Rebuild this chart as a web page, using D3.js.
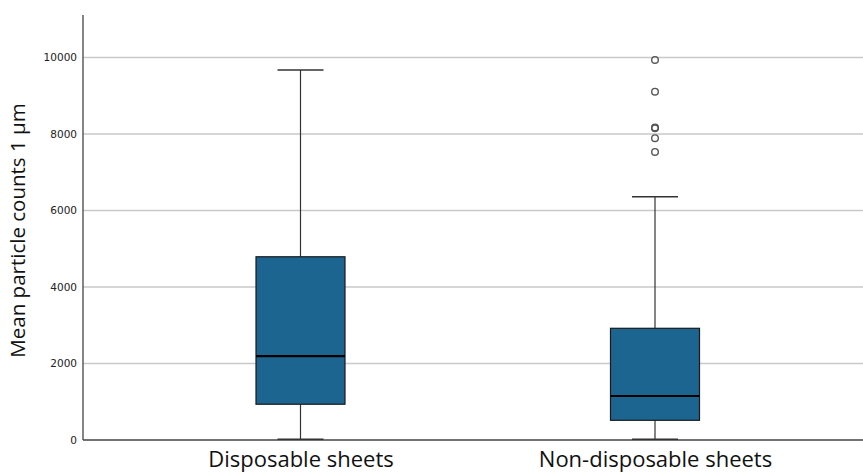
<!DOCTYPE html>
<html>
<head>
<meta charset="utf-8">
<script src="https://cdn.jsdelivr.net/npm/d3@7"></script>
<style>
  html, body { margin: 0; padding: 0; background: #fff; }
  svg { display: block; }
</style>
</head>
<body>
<div id="chart"></div>
<script>
// Box-plot summaries for the two sheet types
const categories = ["Disposable sheets", "Non-disposable sheets"];
const whiskerLow = [20, 20];
const q1 = [935, 515];
const median = [2195, 1150];
const q3 = [4790, 2920];
const whiskerHigh = [9675, 6360];
// Outliers (Non-disposable sheets only)
const outlierCategory = ["Non-disposable sheets", "Non-disposable sheets", "Non-disposable sheets", "Non-disposable sheets", "Non-disposable sheets", "Non-disposable sheets"];
const outlierValues = [9935, 9105, 8170, 8150, 7890, 7530];
const yTicks = [0, 2000, 4000, 6000, 8000, 10000];
const yTitle = "Mean particle counts 1 µm";

const W = 863, H = 473;
const mLeft = 83, mBottom = 440, mTop = 15, mRight = 863;
const labelFont = "'Open Sans', 'Noto Sans', sans-serif";

const svg = d3.select("#chart").append("svg")
  .attr("width", W).attr("height", H);

const y = d3.scaleLinear().domain([0, 11110]).range([mBottom, mTop]);
const x = d3.scalePoint().domain(categories).range([300.5, 655]);

const boxW = 89, capW = 46;

// Horizontal gridlines
svg.append("g")
  .selectAll("line")
  .data(yTicks.filter(d => d > 0))
  .join("line")
  .attr("x1", mLeft).attr("x2", mRight)
  .attr("y1", d => y(d)).attr("y2", d => y(d))
  .attr("stroke", "#c9c9c9").attr("stroke-width", 1.5);

// Y axis labels
const yAxis = d3.axisLeft(y).tickValues(yTicks).tickSize(0).tickPadding(6).tickFormat(d3.format("d"));
const gy = svg.append("g").attr("transform", `translate(${mLeft},0)`).call(yAxis);
gy.select(".domain").remove();
gy.selectAll("text")
  .attr("font-family", "'DejaVu Sans', sans-serif")
  .attr("font-size", 10.5)
  .attr("fill", "#222");

// X axis (category labels)
const xAxis = d3.axisBottom(x).tickSize(0).tickPadding(11);
const gx = svg.append("g").attr("transform", `translate(0,${mBottom})`).call(xAxis);
gx.select(".domain").remove();
gx.selectAll("text")
  .attr("font-family", labelFont)
  .attr("font-size", 22)
  .attr("fill", "#111");

// Axis lines
svg.append("line")
  .attr("x1", mLeft).attr("x2", mLeft).attr("y1", mTop).attr("y2", mBottom)
  .attr("stroke", "#444").attr("stroke-width", 1.3);
svg.append("line")
  .attr("x1", mLeft).attr("x2", mRight).attr("y1", mBottom).attr("y2", mBottom)
  .attr("stroke", "#444").attr("stroke-width", 1.3);

// Boxes
const stats = categories.map((c, i) => ({
  c, lo: whiskerLow[i], q1: q1[i], med: median[i], q3: q3[i], hi: whiskerHigh[i]
}));

const g = svg.append("g");
stats.forEach(s => {
  const cx = x(s.c);
  // whiskers
  g.append("line").attr("x1", cx).attr("x2", cx).attr("y1", y(s.q3)).attr("y2", y(s.hi))
    .attr("stroke", "#333").attr("stroke-width", 1.2);
  g.append("line").attr("x1", cx).attr("x2", cx).attr("y1", y(s.q1)).attr("y2", y(s.lo))
    .attr("stroke", "#333").attr("stroke-width", 1.2);
  g.append("line").attr("x1", cx - capW / 2).attr("x2", cx + capW / 2).attr("y1", y(s.hi)).attr("y2", y(s.hi))
    .attr("stroke", "#333").attr("stroke-width", 1.5);
  g.append("line").attr("x1", cx - capW / 2).attr("x2", cx + capW / 2).attr("y1", y(s.lo)).attr("y2", y(s.lo))
    .attr("stroke", "#333").attr("stroke-width", 1.5);
  // box
  g.append("rect")
    .attr("x", cx - boxW / 2).attr("width", boxW)
    .attr("y", y(s.q3)).attr("height", y(s.q1) - y(s.q3))
    .attr("fill", "#1c6591").attr("stroke", "#1a1a1a").attr("stroke-width", 1.2);
  // median
  g.append("line").attr("x1", cx - boxW / 2).attr("x2", cx + boxW / 2).attr("y1", y(s.med)).attr("y2", y(s.med))
    .attr("stroke", "#000").attr("stroke-width", 2.2);
});

// Outliers
svg.append("g")
  .selectAll("circle")
  .data(outlierValues.map((v, i) => ({ v, c: outlierCategory[i] })))
  .join("circle")
  .attr("cx", d => x(d.c)).attr("cy", d => y(d.v))
  .attr("r", 3.3)
  .attr("fill", "none").attr("stroke", "#555").attr("stroke-width", 1.4);

// Y title
svg.append("text")
  .attr("transform", `translate(25,${(mTop + mBottom) / 2 + 3}) rotate(-90)`)
  .attr("text-anchor", "middle")
  .attr("font-family", labelFont)
  .attr("font-size", 20.5)
  .attr("fill", "#111")
  .text(yTitle);
</script>
</body>
</html>
